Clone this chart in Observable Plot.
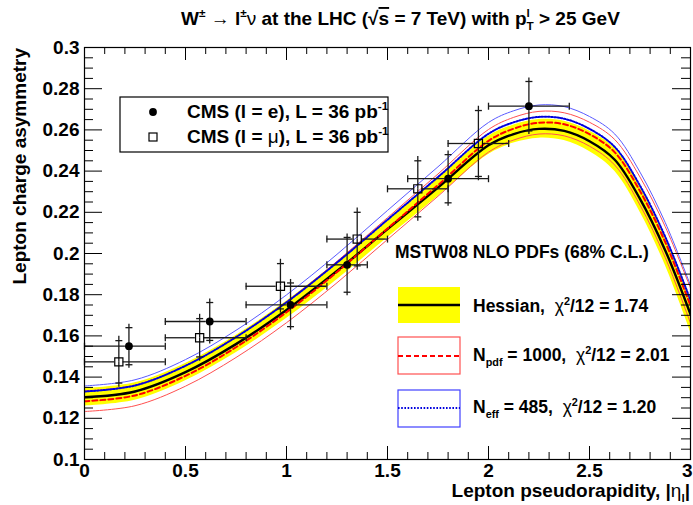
<!DOCTYPE html>
<html>
<head>
<meta charset="utf-8">
<script src="https://cdn.jsdelivr.net/npm/d3@7"></script>
<script src="https://cdn.jsdelivr.net/npm/@observablehq/plot@0.6"></script>
<style>
  html, body { margin: 0; padding: 0; background: #fff; }
  #chart { width: 693px; height: 505px; }
  svg text { font-family: "Liberation Sans", Arial, sans-serif; }
</style>
</head>
<body>
<div id="chart"></div>
<script>
// ---- Theory predictions (MSTW08 NLO), lepton charge asymmetry vs |eta_l| ----
const eta          = [0, 0.25, 0.5, 0.75, 1.0, 1.25, 1.5, 1.75, 2.0, 2.125, 2.25, 2.375, 2.5, 2.625, 2.75, 2.875, 3.0];
// Hessian central value and 68% C.L. band
const hessCentral  = [0.1302, 0.1330, 0.1424, 0.1560, 0.1726, 0.1915, 0.2118, 0.2320, 0.2525, 0.2580, 0.2605, 0.2595, 0.2545, 0.2455, 0.2265, 0.2015, 0.1705];
const hessLow      = [0.1260, 0.1288, 0.1382, 0.1518, 0.1684, 0.1873, 0.2076, 0.2277, 0.2481, 0.2536, 0.2560, 0.2548, 0.2495, 0.2399, 0.2202, 0.1943, 0.1620];
const hessHigh     = [0.1344, 0.1372, 0.1466, 0.1602, 0.1768, 0.1957, 0.2160, 0.2363, 0.2569, 0.2624, 0.2650, 0.2642, 0.2595, 0.2511, 0.2328, 0.2087, 0.1790];
// Random PDF replicas, N_pdf = 1000
const npdfCentral  = [0.1283, 0.1311, 0.1406, 0.1545, 0.1715, 0.1910, 0.2121, 0.2332, 0.2547, 0.2606, 0.2635, 0.2627, 0.2579, 0.2491, 0.2303, 0.2055, 0.1747];
const npdfLow      = [0.1233, 0.1261, 0.1356, 0.1495, 0.1664, 0.1858, 0.2068, 0.2278, 0.2492, 0.2551, 0.2580, 0.2571, 0.2521, 0.2429, 0.2235, 0.1980, 0.1662];
const npdfHigh     = [0.1333, 0.1361, 0.1456, 0.1595, 0.1766, 0.1962, 0.2174, 0.2386, 0.2602, 0.2661, 0.2690, 0.2683, 0.2637, 0.2553, 0.2371, 0.2130, 0.1832];
// Reweighted replicas, N_eff = 485
const neffCentral  = [0.1330, 0.1359, 0.1455, 0.1594, 0.1763, 0.1956, 0.2164, 0.2371, 0.2581, 0.2637, 0.2663, 0.2654, 0.2605, 0.2517, 0.2329, 0.2081, 0.1773];
const neffLow      = [0.1303, 0.1331, 0.1425, 0.1561, 0.1727, 0.1916, 0.2119, 0.2321, 0.2526, 0.2581, 0.2605, 0.2595, 0.2545, 0.2454, 0.2263, 0.2012, 0.1701];
const neffHigh     = [0.1357, 0.1387, 0.1485, 0.1627, 0.1799, 0.1996, 0.2209, 0.2421, 0.2636, 0.2693, 0.2721, 0.2713, 0.2665, 0.2580, 0.2395, 0.2150, 0.1845];

// ---- CMS data, L = 36 pb^-1 ----
// electrons
const elEta   = [0.22, 0.62, 1.02, 1.30, 1.80, 2.20];
const elBinLo = [0.0, 0.4, 0.8, 1.2, 1.6, 2.0];
const elBinHi = [0.4, 0.8, 1.2, 1.4, 2.0, 2.4];
const elAsym  = [0.1550, 0.1670, 0.1751, 0.1945, 0.2363, 0.2715];
const elErr   = [0.0090, 0.0092, 0.0106, 0.0133, 0.0117, 0.0120];
// muons
const muEta   = [0.17, 0.57, 0.97, 1.35, 1.65, 1.95];
const muBinLo = [0.0, 0.4, 0.8, 1.2, 1.5, 1.8];
const muBinHi = [0.4, 0.8, 1.2, 1.5, 1.8, 2.1];
const muAsym  = [0.1474, 0.1591, 0.1841, 0.2070, 0.2314, 0.2534];
const muErr   = [0.0103, 0.0093, 0.0110, 0.0130, 0.0136, 0.0160];

// axis ticks
const xTicks = [0, 0.5, 1, 1.5, 2, 2.5, 3];
const yTicks = [0.1, 0.12, 0.14, 0.16, 0.18, 0.2, 0.22, 0.24, 0.26, 0.28, 0.3];

// ---- tables built from the arrays ----
const theory = eta.map((e, i) => ({
  eta: e,
  hessC: hessCentral[i], hessLo: hessLow[i], hessHi: hessHigh[i],
  npdfC: npdfCentral[i], npdfLo: npdfLow[i], npdfHi: npdfHigh[i],
  neffC: neffCentral[i], neffLo: neffLow[i], neffHi: neffHigh[i]
}));
const mkPoints = (et, lo, hi, a, err) => et.map((e, i) => ({
  eta: e, lo: lo[i], hi: hi[i], a: a[i], aLo: a[i] - err[i], aHi: a[i] + err[i]
}));
const electrons = mkPoints(elEta, elBinLo, elBinHi, elAsym, elErr);
const muons = mkPoints(muEta, muBinLo, muBinHi, muAsym, muErr);

const xMinor = d3.range(0, 31).map(i => i / 10).filter(v => !xTicks.some(t => Math.abs(t - v) < 1e-9));
const yMinor = d3.range(20, 61).map(i => i / 200).filter(v => !yTicks.some(t => Math.abs(t - v) < 1e-9));
const xLast = xTicks[xTicks.length - 1];

// ---- layout ----
const W = 693, H = 505;
const M = { top: 47, right: 3, bottom: 46, left: 84 };
const frameW = W - M.left - M.right;
const frameH = H - M.top - M.bottom;

const curve = "catmull-rom";
const capV = { draw(c) { c.moveTo(-3.5, 0); c.lineTo(3.5, 0); } };  // caps of vertical bars
const capH = { draw(c) { c.moveTo(0, -3.5); c.lineTo(0, 3.5); } };  // caps of horizontal bars
const barColor = "#1a1a1a";

function errorBars(data, gap) {
  return [
    Plot.ruleX(data, { x: "eta", y1: "a", y2: "aHi", insetBottom: gap, stroke: barColor, strokeWidth: 1.3 }),
    Plot.ruleX(data, { x: "eta", y1: "aLo", y2: "a", insetTop: gap, stroke: barColor, strokeWidth: 1.3 }),
    Plot.ruleY(data, { y: "a", x1: "lo", x2: "eta", insetRight: gap, stroke: barColor, strokeWidth: 1.3 }),
    Plot.ruleY(data, { y: "a", x1: "eta", x2: "hi", insetLeft: gap, stroke: barColor, strokeWidth: 1.3 }),
    Plot.dot(data, { x: "eta", y: "aHi", symbol: capV, stroke: barColor, strokeWidth: 1.3, fill: "none" }),
    Plot.dot(data, { x: "eta", y: "aLo", symbol: capV, stroke: barColor, strokeWidth: 1.3, fill: "none" }),
    Plot.dot(data, { x: "lo", y: "a", symbol: capH, stroke: barColor, strokeWidth: 1.3, fill: "none" }),
    Plot.dot(data, { x: "hi", y: "a", symbol: capH, stroke: barColor, strokeWidth: 1.3, fill: "none" })
  ];
}

const plot = Plot.plot({
  width: W, height: H,
  marginTop: M.top, marginRight: M.right, marginBottom: M.bottom, marginLeft: M.left,
  x: { domain: [0, 3] },
  y: { domain: [0.1, 0.3] },
  style: { fontFamily: "Liberation Sans, Arial, sans-serif", color: "#000", background: "#fff", overflow: "visible" },
  marks: [
    // Hessian band
    Plot.areaY(theory, { x: "eta", y1: "hessLo", y2: "hessHi", fill: "#ffff00", curve, clip: true }),
    // N_pdf band edges
    Plot.line(theory, { x: "eta", y: "npdfLo", stroke: "#ff5050", strokeWidth: 1, curve, clip: true }),
    Plot.line(theory, { x: "eta", y: "npdfHi", stroke: "#ff5050", strokeWidth: 1, curve, clip: true }),
    // N_eff band edges
    Plot.line(theory, { x: "eta", y: "neffLo", stroke: "#4040ff", strokeWidth: 1, curve, clip: true }),
    Plot.line(theory, { x: "eta", y: "neffHi", stroke: "#5a5aff", strokeWidth: 1, curve, clip: true }),
    // central values
    Plot.line(theory, { x: "eta", y: "hessC", stroke: "#000", strokeWidth: 2.4, curve, clip: true }),
    Plot.line(theory, { x: "eta", y: "npdfC", stroke: "#ff0000", strokeWidth: 2, strokeDasharray: "5,3", curve, clip: true }),
    Plot.line(theory, { x: "eta", y: "neffC", stroke: "#0000dd", strokeWidth: 2, strokeDasharray: "1.6,1.6", curve, clip: true }),

    // data
    ...errorBars(electrons, 3.5),
    ...errorBars(muons, 4.3),
    Plot.dot(electrons, { x: "eta", y: "a", r: 3.9, fill: "#000", stroke: "none" }),
    Plot.dot(muons, { x: "eta", y: "a", symbol: "square", r: 4.6, fill: "none", stroke: "#000", strokeWidth: 1.2 }),

    // inward ticks on all four sides
    Plot.tickY(yTicks, { y: d => d, insetRight: frameW - 18, stroke: "#000" }),
    Plot.tickY(yMinor, { y: d => d, insetRight: frameW - 9, stroke: "#000" }),
    Plot.tickY(yTicks, { y: d => d, insetLeft: frameW - 18, stroke: "#000" }),
    Plot.tickY(yMinor, { y: d => d, insetLeft: frameW - 9, stroke: "#000" }),
    Plot.tickX(xTicks, { x: d => d, insetTop: frameH - 13, stroke: "#000" }),
    Plot.tickX(xMinor, { x: d => d, insetTop: frameH - 7, stroke: "#000" }),
    Plot.tickX(xTicks, { x: d => d, insetBottom: frameH - 13, stroke: "#000" }),
    Plot.tickX(xMinor, { x: d => d, insetBottom: frameH - 7, stroke: "#000" }),

    // tick labels (the last x label is pulled inside the page edge)
    Plot.axisY({ ticks: yTicks, tickSize: 0, tickPadding: 5, tickFormat: d => `${d}`, label: null, fontSize: 19, fontWeight: "bold" }),
    Plot.axisX({ ticks: xTicks.filter(t => t !== xLast), tickSize: 0, tickPadding: 4, tickFormat: d => `${d}`, label: null, fontSize: 19, fontWeight: "bold" }),
    Plot.axisX({ ticks: [xLast], tickSize: 0, tickPadding: 4, tickFormat: d => `${d}`, label: null, fontSize: 19, fontWeight: "bold", textAnchor: "end", dx: 2 }),

    Plot.frame({ stroke: "#000", strokeWidth: 1.2 })
  ]
});

document.getElementById("chart").appendChild(plot);

// ---- text and legends drawn over the frame ----
const svg = d3.select(plot);
const g = svg.append("g").attr("fill", "#000");

function rich(parent, x, y, parts, { size = 19, anchor = "start", weight = "bold", rotate = 0 } = {}) {
  const t = parent.append("text")
    .attr("x", x).attr("y", y)
    .attr("font-size", size).attr("font-weight", weight)
    .attr("text-anchor", anchor);
  if (rotate) t.attr("transform", `rotate(${rotate},${x},${y})`);
  let shift = 0, prev = null, carry = 0;
  for (const p of parts) {
    const target = p.sup ? -0.42 * size : p.sub ? 0.28 * size : 0;
    const ts = t.append("tspan").text(p.t).attr("dy", target - shift);
    shift = target;
    ts.attr("font-size", (p.sup || p.sub) ? size * 0.62 : size);
    if (p.greek) ts.attr("font-weight", "normal");
    if (p.over) ts.attr("text-decoration", "overline");
    let dx = 0;
    if (p.back && prev) {
      // stack this index over/under the previous one
      const wPrev = prev.node().getComputedTextLength();
      dx = -wPrev;
      ts.attr("dx", dx);
      const wThis = ts.node().getComputedTextLength();
      carry = Math.max(0, wPrev - wThis);
    } else if (carry) {
      ts.attr("dx", carry);
      carry = 0;
    }
    prev = ts;
  }
  return t;
}

// title
rich(g, 181, 25, [
  { t: "W" }, { t: "±", sup: true }, { t: " → l" }, { t: "±", sup: true }, { t: "ν", greek: true },
  { t: " at the LHC (√" }, { t: "s", over: true }, { t: " = 7 TeV) with p" },
  { t: "T", sub: true }, { t: "l", sup: true, back: true }, { t: " > 25 GeV" }
]);

// axis titles
rich(g, 690, 497, [
  { t: "Lepton pseudorapidity, |" }, { t: "η", greek: true }, { t: "l", sub: true }, { t: "|" }
], { anchor: "end" });
rich(g, 26, 48, [{ t: "Lepton charge asymmetry" }], { anchor: "end", rotate: -90 });

// data legend
g.append("rect").attr("x", 120).attr("y", 97).attr("width", 268).attr("height", 55)
  .attr("fill", "#fff").attr("stroke", "#000").attr("stroke-width", 1.2);
g.append("circle").attr("cx", 153).attr("cy", 112).attr("r", 3.9).attr("fill", "#000");
g.append("rect").attr("x", 149).attr("y", 133).attr("width", 8).attr("height", 8)
  .attr("fill", "none").attr("stroke", "#000").attr("stroke-width", 1.2);
rich(g, 187, 118, [{ t: "CMS (l = e), L = 36 pb" }, { t: "-1", sup: true }]);
rich(g, 187, 143, [{ t: "CMS (l = " }, { t: "μ", greek: true }, { t: "), L = 36 pb" }, { t: "-1", sup: true }]);

// theory legend
const ls = 17.5;
rich(g, 395, 258, [{ t: "MSTW08 NLO PDFs (68% C.L.)" }], { size: ls });
g.append("rect").attr("x", 398).attr("y", 287).attr("width", 62).attr("height", 36).attr("fill", "#ffff00");
g.append("line").attr("x1", 398).attr("x2", 460).attr("y1", 305).attr("y2", 305).attr("stroke", "#000").attr("stroke-width", 2.4);
rich(g, 473, 312, [{ t: "Hessian,  " }, { t: "χ", greek: true }, { t: "2", sup: true }, { t: "/12 = 1.74" }], { size: ls });

g.append("rect").attr("x", 398).attr("y", 337).attr("width", 62).attr("height", 37)
  .attr("fill", "none").attr("stroke", "#ff5050").attr("stroke-width", 1.2);
g.append("line").attr("x1", 398).attr("x2", 460).attr("y1", 356).attr("y2", 356)
  .attr("stroke", "#ff0000").attr("stroke-width", 2).attr("stroke-dasharray", "5,3");
rich(g, 473, 361, [{ t: "N" }, { t: "pdf", sub: true }, { t: " = 1000,  " }, { t: "χ", greek: true }, { t: "2", sup: true }, { t: "/12 = 2.01" }], { size: ls });

g.append("rect").attr("x", 398).attr("y", 390).attr("width", 62).attr("height", 37)
  .attr("fill", "none").attr("stroke", "#4040ff").attr("stroke-width", 1.2);
g.append("line").attr("x1", 398).attr("x2", 460).attr("y1", 408).attr("y2", 408)
  .attr("stroke", "#0000dd").attr("stroke-width", 2).attr("stroke-dasharray", "1.6,1.6");
rich(g, 473, 413, [{ t: "N" }, { t: "eff", sub: true }, { t: " = 485,  " }, { t: "χ", greek: true }, { t: "2", sup: true }, { t: "/12 = 1.20" }], { size: ls });
</script>
</body>
</html>
